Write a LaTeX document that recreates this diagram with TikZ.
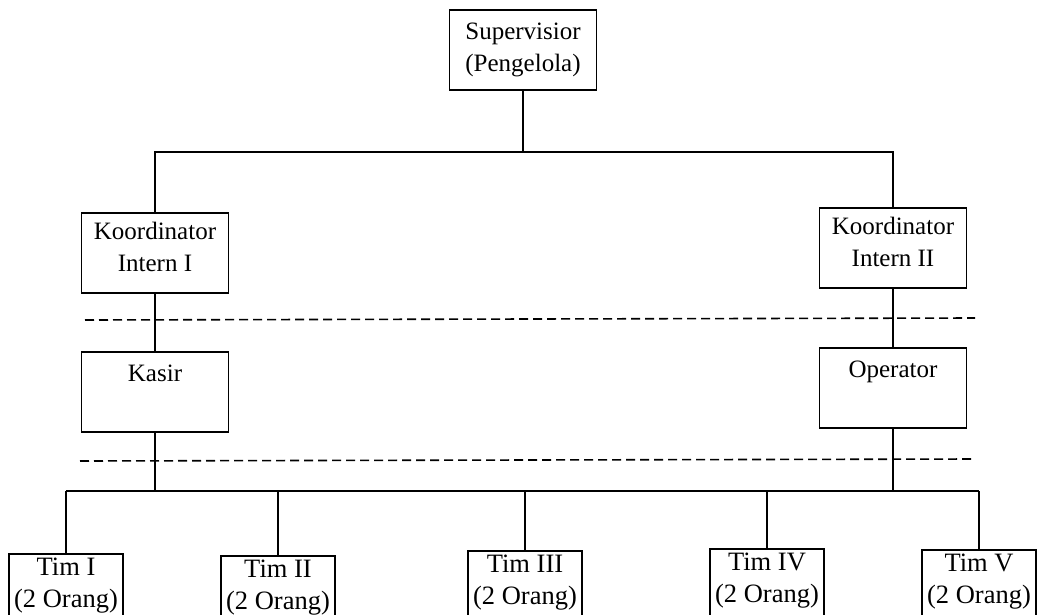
\documentclass[tikz,border=0pt]{standalone}
\usepackage{fontspec}
\setmainfont{Liberation Serif}
\begin{document}
\begin{tikzpicture}[x=1pt,y=-1pt,
  line width=1.6pt,
  box/.style={draw, rectangle, align=center, inner sep=3pt,
    font=\fontsize{25}{32}\selectfont},
  bigbox/.style={box, minimum width=147pt, minimum height=80pt},
  timbox/.style={box, anchor=north, minimum width=114pt, inner sep=4pt,
    text depth=16pt, font=\fontsize{26.5}{32}\selectfont},
  lbl/.style={font=\fontsize{25}{32}\selectfont, anchor=north, inner sep=0pt},
  sep/.style={line width=1.6pt, dash pattern=on 9pt off 5pt}]
\path[use as bounding box] (0,0) rectangle (1037,614);
\clip (0,0) rectangle (1037,614);
\fill[white] (0,0) rectangle (1037,614);

% boxes
\node[bigbox] (sup) at (523,50) {Supervisior\\(Pengelola)};
\node[bigbox, text depth=12pt] (k1) at (155,253) {Koordinator\\Intern I};
\node[bigbox, text depth=12pt] (k2) at (893,248) {Koordinator\\Intern II};
\node[bigbox] (kasir) at (155,392) {};
\node[lbl] (kasirt) at ([yshift=-13pt]kasir.north) {Kasir};
\node[bigbox] (op) at (893,388) {};
\node[lbl] (opt) at ([yshift=-13pt]op.north) {Operator};

\node[timbox] (t1) at (66,553) {Tim I\\(2 Orang)};
\node[timbox] (t2) at (278,555) {Tim II\\(2 Orang)};
\node[timbox] (t3) at (525,550) {Tim III\\(2 Orang)};
\node[timbox] (t4) at (767,548) {Tim IV\\(2 Orang)};
\node[timbox] (t5) at (979,549) {Tim V\\(2 Orang)};

% top bus
\coordinate (b1) at (523,152);
\draw (sup.south) -- (b1);
\draw (k1.north) -- (k1.north |- b1) -- (k2.north |- b1) -- (k2.north);
\draw (k1) -- (kasir);
\draw (k2) -- (op);

% dashed separators
\coordinate (d1a) at (85,320);
\coordinate (d1b) at (975,318);
\coordinate (d2a) at (80,461);
\coordinate (d2b) at (975,459);
\draw[sep] (d1a) -- (d1b);
\draw[sep] (d2a) -- (d2b);

% bottom bus
\coordinate (b2) at (525,491);
\draw (kasir.south) -- (kasir.south |- b2);
\draw (op.south) -- (op.south |- b2);
\draw (t1.north |- b2) -- (t5.north |- b2);
\foreach \t in {t1,t2,t3,t4,t5}{
  \draw (\t.north) -- (\t.north |- b2);
}
\end{tikzpicture}
\end{document}
